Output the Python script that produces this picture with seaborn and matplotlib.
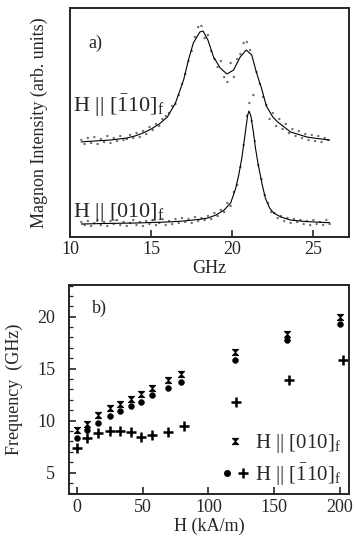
import numpy as np
import pandas as pd
import matplotlib
matplotlib.use("Agg")
import matplotlib.pyplot as plt
import seaborn as sns
from matplotlib.path import Path
from matplotlib.lines import Line2D
from matplotlib.legend_handler import HandlerTuple

# ---------------- data: panel a) spectra ----------------
fit_110_x = [10.7, 11.0, 11.5, 12.0, 12.5, 13.0, 13.5, 14.0, 14.5, 15.0, 15.5, 16.0, 16.5, 17.0,
             17.3, 17.6, 18.0, 18.2, 18.5, 18.85, 19.26, 19.67, 20.08, 20.49, 20.86, 21.2, 21.5,
             21.8, 22.1, 22.5, 22.8, 23.2, 23.6, 24.0, 24.6, 25.0, 25.5, 26.0]
fit_110_y = [95, 95.5, 96, 96.5, 97, 98, 99, 101, 104, 108, 113, 120, 134, 157,
             177, 194, 205, 206, 197, 180, 169, 163, 167, 180, 187, 182, 164,
             149, 131, 120, 115, 110, 105, 103, 100, 99, 98, 97]

pts_110_x = [10.7, 10.9, 11.1, 11.3, 11.5, 11.7, 11.9, 12.1, 12.3, 12.5, 12.7, 12.9, 13.1, 13.3,
             13.5, 13.7, 13.9, 14.1, 14.3, 14.5, 14.7, 14.9, 15.1, 15.3, 15.5, 15.7, 15.9, 16.1,
             16.3, 16.5, 16.7, 16.9, 17.1, 17.3, 17.5, 17.7, 17.9, 18.1, 18.3, 18.5, 18.7, 18.9,
             19.1, 19.3, 19.5, 19.7, 19.9, 20.1, 20.3, 20.5, 20.7, 20.9, 21.1, 21.3, 21.5, 21.7,
             21.9, 22.1, 22.3, 22.5, 22.7, 22.9, 23.1, 23.3, 23.5, 23.7, 23.9, 24.1, 24.3, 24.5,
             24.7, 24.9, 25.1, 25.3, 25.5, 25.7, 25.9]
pts_110_y = [97, 93, 99, 94, 100, 93, 98, 95, 101, 94, 99, 96, 101, 97,
             98, 102, 99, 104, 100, 106, 103, 110, 107, 113, 111, 118, 121, 124,
             131, 133, 142, 153, 163, 176, 186, 200, 210, 211, 199, 202, 186, 178,
             170, 176, 160, 155, 174, 160, 178, 183, 194, 195, 187, 142, 165, 153,
             140, 132, 118, 124, 111, 118, 108, 113, 104, 108, 101, 106, 99, 103,
             97, 102, 96, 101, 95, 99, 97]

fit_010_x = [10.7, 12.0, 14.0, 16.0, 17.0, 18.0, 18.5, 19.0, 19.5, 19.9, 20.2, 20.4, 20.6, 20.8,
             20.95, 21.03, 21.15, 21.3, 21.42, 21.55, 21.69, 21.85, 22.04, 22.3, 22.55, 23.0,
             23.58, 24.5, 26.0]
fit_010_y = [13, 13.5, 14, 15, 16, 17.7, 19, 22, 27, 34, 48, 62, 80, 104,
             122, 126, 121, 105, 90, 77, 65, 52, 39, 29, 24, 20,
             17, 15.5, 14.3]

pts_010_x = [10.7, 10.9, 11.1, 11.3, 11.5, 11.7, 11.9, 12.1, 12.3, 12.5, 12.7, 12.9, 13.1, 13.3,
             13.5, 13.7, 13.9, 14.1, 14.3, 14.5, 14.7, 14.9, 15.1, 15.3, 15.5, 15.7, 15.9, 16.1,
             16.3, 16.5, 16.7, 16.9, 17.1, 17.3, 17.5, 17.7, 17.9, 18.1, 18.3, 18.5, 18.7, 18.9,
             19.1, 19.3, 19.5, 19.7, 19.9, 20.1, 20.3, 20.5, 20.7, 20.9, 21.05, 21.2, 21.4, 21.6,
             21.8, 22.0, 22.2, 22.4, 22.6, 22.8, 23.0, 23.2, 23.4, 23.6, 23.8, 24.0, 24.2, 24.4,
             24.6, 24.8, 25.0, 25.2, 25.4, 25.6, 25.8, 26.0]
pts_010_y = [15, 12, 16, 11, 14, 17, 12, 15, 11, 16, 13, 17, 12, 15,
             11, 14, 17, 12, 15, 11, 16, 13, 17, 12, 14, 18, 12, 16,
             13, 18, 14, 19, 15, 18, 14, 20, 16, 19, 17, 21, 18, 24,
             21, 27, 25, 34, 31, 45, 52, 70, 92, 121, 134, 116, 96, 72,
             58, 42, 34, 25, 24, 19, 21, 16, 19, 14, 18, 15, 17, 13,
             16, 12, 17, 13, 15, 12, 17, 13]

# ---------------- data: panel b) dispersion ----------------
H_a = [0, 8, 16, 25, 33, 41, 49, 57, 69, 79, 120, 160, 200]
f_010 = [9.1, 9.65, 10.5, 11.2, 11.6, 12.05, 12.6, 13.1, 13.95, 14.45, 16.6, 18.3, 20.0]
f_110_circle = [8.3, 9.1, 9.75, 10.45, 10.9, 11.45, 11.75, 12.45, 13.1, 13.7, 15.85, 17.8, 19.3]
H_b = [0, 8, 16, 25, 33, 41, 49, 57, 69, 81, 121, 161, 202]
f_110_plus = [7.35, 8.3, 8.85, 9.05, 9.05, 8.95, 8.4, 8.6, 8.9, 9.45, 11.8, 13.95, 15.85]

x_ticks_a = [10, 15, 20, 25]
x_ticks_b = [0, 50, 100, 150, 200]
y_ticks_b = [5, 10, 15, 20]

# ---------------- style ----------------
sns.set_style("ticks")
plt.rcParams["font.family"] = ["Liberation Serif", "DejaVu Serif"]
plt.rcParams["mathtext.fontset"] = "custom"
plt.rcParams["mathtext.rm"] = "Liberation Serif"
plt.rcParams["mathtext.it"] = "Liberation Serif:italic"
plt.rcParams["axes.linewidth"] = 1.4

fig = plt.figure(figsize=(3.56, 5.42), dpi=100)
fig.patch.set_facecolor("white")

# ---------------- panel a ----------------
ax1 = fig.add_axes([0.1966, 0.5627, 0.784, 0.4225])
dot_kw = dict(s=3, color="#707070", edgecolor="none", legend=False)
sns.scatterplot(x=pts_110_x, y=pts_110_y, ax=ax1, **dot_kw)
sns.scatterplot(x=pts_010_x, y=pts_010_y, ax=ax1, **dot_kw)
sns.lineplot(x=fit_110_x, y=fit_110_y, ax=ax1, color="black", lw=0.8, sort=True)
sns.lineplot(x=fit_010_x, y=fit_010_y, ax=ax1, color="black", lw=0.8, sort=True)
ax1.set_xlim(10, 27.2)
ax1.set_ylim(0, 229)
ax1.set_xticks(x_ticks_a)
ax1.set_yticks([])
ax1.tick_params(axis="x", direction="in", length=5, width=1.2, labelsize=13, pad=3)
ax1.set_xlabel("GHz", fontsize=13, labelpad=1)
ax1.set_ylabel("Magnon Intensity (arb. units)", fontsize=13, labelpad=16)
ax1.text(0.065, 0.825, "a)", transform=ax1.transAxes, fontsize=13)
ax1.text(0.01, 0.545, r"H || [$\bar{1}$10]$_{\mathrm{f}}$", transform=ax1.transAxes, fontsize=16)
ax1.text(0.01, 0.087, r"H || [010]$_{\mathrm{f}}$", transform=ax1.transAxes, fontsize=16)

# ---------------- panel b ----------------
ax2 = fig.add_axes([0.194, 0.0886, 0.787, 0.3856])
hourglass = Path([(-1, 1), (1, 1), (-1, -1), (1, -1), (-1, 1)],
                 [Path.MOVETO, Path.LINETO, Path.LINETO, Path.LINETO, Path.CLOSEPOLY])
sns.scatterplot(x=H_a, y=f_010, ax=ax2, marker=hourglass, s=20, color="black",
                edgecolor="black", linewidth=0.7, legend=False)
sns.scatterplot(x=H_a, y=f_110_circle, ax=ax2, marker="o", s=18, color="black",
                edgecolor="black", legend=False)
sns.scatterplot(x=H_b, y=f_110_plus, ax=ax2, marker="+", s=45, color="black",
                linewidth=1.8, legend=False)
ax2.set_xlim(-6, 207)
ax2.set_ylim(2.95, 23.05)
ax2.set_xticks(x_ticks_b)
ax2.set_yticks(y_ticks_b)
ax2.set_yticks(np.arange(3, 24, 1), minor=True)
ax2.tick_params(axis="both", which="major", direction="in", length=5, width=1.2, labelsize=13)
ax2.tick_params(axis="y", which="major", pad=10)
ax2.tick_params(axis="y", which="minor", direction="in", length=3, width=0.9)
ax2.set_xlabel("H (kA/m)", fontsize=13, labelpad=1)
ax2.set_ylabel("Frequency  (GHz)", fontsize=13, labelpad=10)
ax2.text(0.08, 0.865, "b)", transform=ax2.transAxes, fontsize=13)

h1 = Line2D([], [], marker=hourglass, color="black", linestyle="", markersize=4.5,
            markeredgewidth=0.7)
h2a = Line2D([], [], marker="o", color="black", linestyle="", markersize=4)
h2b = Line2D([], [], marker="+", color="black", linestyle="", markersize=7, markeredgewidth=1.8)
ax2.legend([(h1,), (h2a, h2b)],
           [r"H || [010]$_{\mathrm{f}}$", r"H || [$\bar{1}$10]$_{\mathrm{f}}$"],
           handler_map={tuple: HandlerTuple(ndivide=None, pad=0.3)},
           loc="lower right", frameon=False, fontsize=15, handlelength=1.3,
           handletextpad=0.3, labelspacing=0.3, borderaxespad=0.0,
           bbox_to_anchor=(1.0, -0.01))

fig.savefig("out.png", dpi=100, facecolor="white")
